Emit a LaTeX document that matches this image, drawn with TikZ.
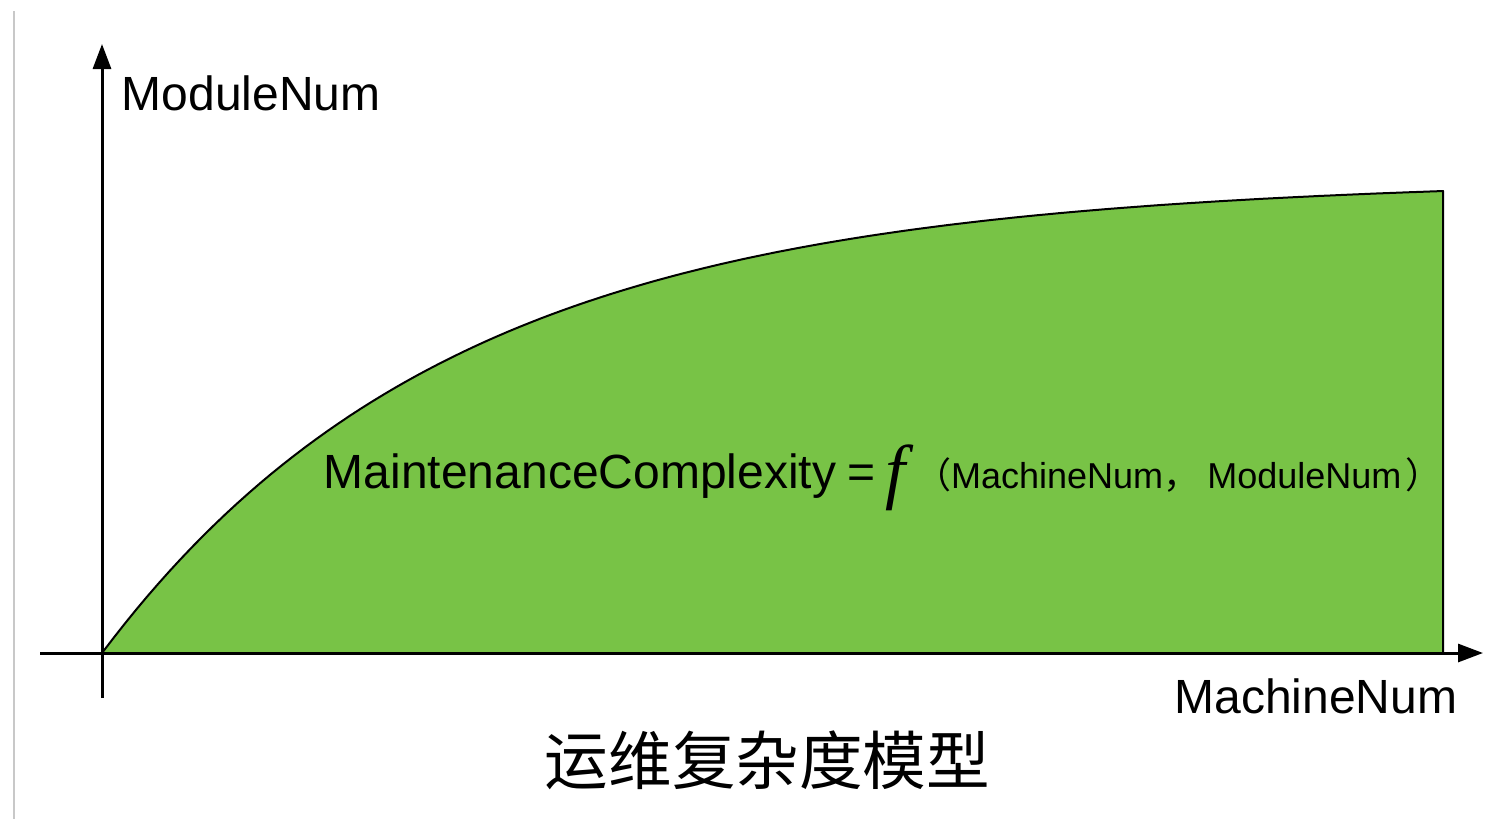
\documentclass[tikz,border=0pt]{standalone}
\usepackage{fontspec}
\setmainfont{Liberation Sans}
\newfontfamily\cjk{Noto Sans CJK SC}
\newfontfamily\serifit{Liberation Serif}
\usetikzlibrary{arrows.meta}
\definecolor{areagreen}{RGB}{120,195,70}
\definecolor{framegray}{RGB}{200,200,200}
\tikzset{
  axisline/.style={line width=1.5pt, black, -{Triangle[length=12.5pt,width=9pt]}},
  arealine/.style={line width=1pt, black, fill=areagreen, line join=round},
  axislabel/.style={inner sep=0pt, anchor=base west, font=\fontsize{24}{28}\selectfont},
  formula/.style={inner sep=0pt, anchor=base west, font=\fontsize{24}{28}\selectfont},
  title/.style={inner sep=0pt, anchor=base, font=\cjk\fontsize{31.8}{36}\selectfont}
}
\begin{document}
\begin{tikzpicture}[x=0.5pt,y=-0.5pt]
\useasboundingbox (0,0) rectangle (1492,819);
\fill[white] (0,0) rectangle (1492,819);
% left frame line
\coordinate (ftop) at (14,11);
\coordinate (fbot) at (14,819);
\draw[framegray, line width=1pt] (ftop) -- (fbot);
% area under curve
\coordinate (O) at (102,653);
\coordinate (Rbot) at (1443,653);
\draw[arealine] (O) -- plot[domain=0:1341, samples=120] ({102+\x}, {653-(465*(1-exp(-\x/350))+7*\x/1341)}) -- (Rbot) -- cycle;
% axes
\coordinate (ybot) at (102,698);
\coordinate (ytip) at (102,44);
\coordinate (xleft) at (40,653);
\coordinate (xtip) at (1483,653);
\draw[axisline] (ybot) -- (ytip);
\draw[axisline] (xleft) -- (xtip);
% labels
\node[axislabel] (ylab) at (121.5,110) {ModuleNum};
\node[axislabel] (xlab) at (1174,713) {MachineNum};
\node[formula] (eq) at (323.5,488) {MaintenanceComplexity\hspace{5.5pt}=\hspace{5pt}\raisebox{-3.5pt}{\serifit\itshape\fontsize{36}{36}\selectfont f}\hspace{5pt}{\fontsize{18}{20}\selectfont{\cjk （}MachineNum{\cjk ，}\hspace{4pt}ModuleNum\hspace{2pt}{\cjk ）}}};
\node[title] (ttl) at (767.5,784) {运维复杂度模型};
\end{tikzpicture}
\end{document}
